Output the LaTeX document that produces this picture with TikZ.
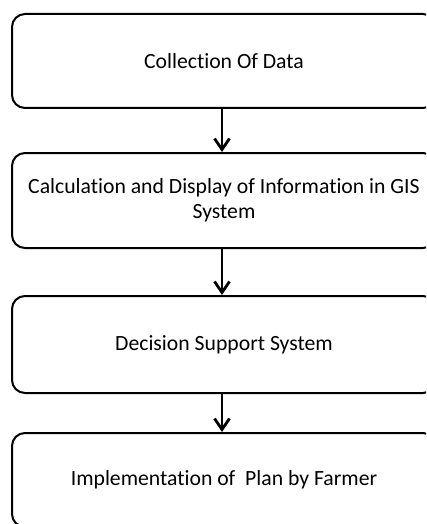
\documentclass[tikz,border=0pt]{standalone}
\usepackage{fontspec}
\setmainfont[Ligatures={NoCommon}]{Carlito}
\usetikzlibrary{arrows.meta}
\tikzset{
  stagebox/.style={draw=black, line width=2pt, rounded corners=13pt, minimum width=424pt, align=center, inner sep=0pt, font=\fontsize{21.7}{25}\selectfont},
  flowarrow/.style={draw=black, line width=2.8pt, -{Straight Barb[length=11pt,width=15pt]}}
}
\begin{document}
\begin{tikzpicture}[x=1pt,y=-1pt]
\clip (0,0) rectangle (426,524);
\useasboundingbox (0,0) rectangle (426,524);
\node[stagebox, minimum height=94pt] (b1) at (224,61) {Collection Of Data};
\node[stagebox, minimum height=95pt] (b2) at (224,200.5) {Calculation and Display of Information in GIS\\System};
\node[stagebox, minimum height=97pt] (b3) at (224,344.5) {Decision Support System};
\node[stagebox, minimum height=94pt] (b4) at (224,480) {Implementation of\ \ Plan by Farmer};
\draw[flowarrow] ([xshift=-2pt]b1.south) -- ([xshift=-2pt]b2.north);
\draw[flowarrow] ([xshift=-2pt]b2.south) -- ([xshift=-2pt]b3.north);
\draw[flowarrow] ([xshift=-2pt]b3.south) -- ([xshift=-2pt]b4.north);
\end{tikzpicture}
\end{document}
